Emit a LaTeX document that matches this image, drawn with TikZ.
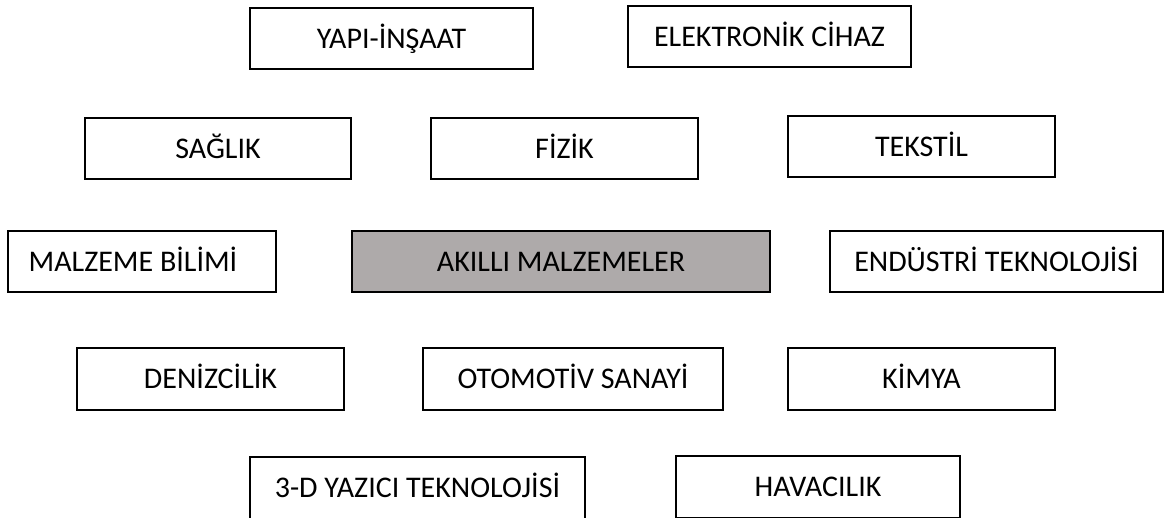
\documentclass[tikz,border=0pt]{standalone}
\usepackage{fontspec}
\setmainfont{Carlito}
\usepackage{color}
\usepackage{tikz}
\definecolor{gri}{RGB}{174,170,170}

\begin{document}
\begin{tikzpicture}[x=1pt, y=-1pt]
	\tikzset{
		kutu/.style = {rectangle, draw, line width=2.5pt, minimum height=61pt, inner sep=0pt,
			text height=19pt, text depth=0pt, font=\fontsize{30}{36}\selectfont},
		merkez/.style = {kutu, fill=gri}
	}
	\useasboundingbox (0, 0) rectangle (1166, 517);
	\node[kutu, minimum width=283pt] (yapi) at (391.5, 38.5) {YAPI-İNŞAAT};
	\node[kutu, minimum width=283pt] (elektronik) at (769.5, 36.5) {ELEKTRONİK CİHAZ};
	\node[kutu, minimum width=266pt] (saglik) at (218, 148.5) {SAĞLIK};
	\node[kutu, minimum width=267pt] (fizik) at (564.5, 148.5) {FİZİK};
	\node[kutu, minimum width=267pt] (tekstil) at (921.5, 146.5) {TEKSTİL};
	\node[kutu, minimum width=268pt] (malzeme) at (142, 261.5) {MALZEME BİLİMİ\kern18pt};
	\node[merkez, minimum width=418pt] (akilli) at (561, 261.5) {AKILLI MALZEMELER};
	\node[kutu, minimum width=333pt] (endustri) at (996.5, 261.5) {ENDÜSTRİ TEKNOLOJİSİ};
	\node[kutu, minimum width=267pt, minimum height=62pt] (denizcilik) at (210.5, 379) {DENİZCİLİK};
	\node[kutu, minimum width=300pt, minimum height=62pt] (otomotiv) at (573, 379) {OTOMOTİV SANAYİ};
	\node[kutu, minimum width=267pt, minimum height=62pt] (kimya) at (921.5, 379) {KİMYA};
	\node[kutu, minimum width=335pt, minimum height=62pt] (yazici) at (417.5, 488) {3-D YAZICI TEKNOLOJİSİ};
	\node[kutu, minimum width=284pt, minimum height=62pt] (havacilik) at (818, 487) {HAVACILIK};
\end{tikzpicture}
\end{document}
